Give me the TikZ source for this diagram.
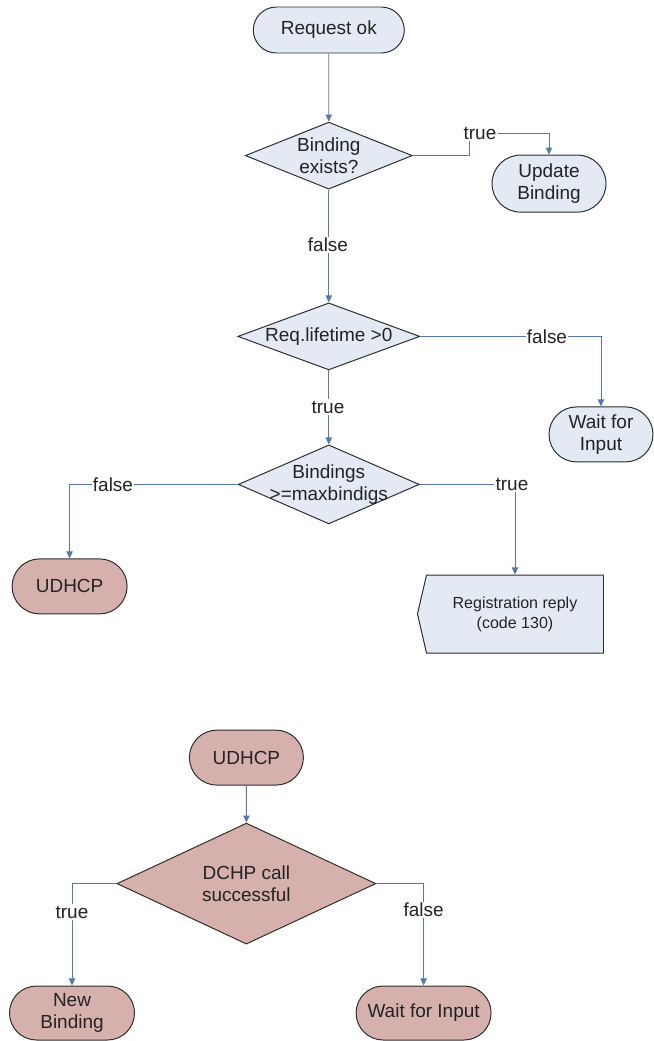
\documentclass[tikz,border=0pt]{standalone}
\usepackage{fontspec}
\setmainfont{Liberation Sans}
\usetikzlibrary{shapes.geometric,shapes.misc,shapes.symbols,arrows.meta}

\definecolor{bluefill}{RGB}{227,234,244}
\definecolor{pinkfill}{RGB}{214,176,172}
\definecolor{linkblue}{RGB}{84,120,178}
\definecolor{edgegray}{RGB}{45,45,45}
\definecolor{textgray}{RGB}{35,35,35}

\begin{document}
\begin{tikzpicture}[
  font=\fontsize{13.5}{15.5}\selectfont,
  term/.style={rounded rectangle, draw=edgegray, line width=0.7pt, text=textgray, align=center, inner sep=0pt},
  decision/.style={diamond, aspect=2.5, draw=edgegray, line width=0.7pt, text=textgray, align=center, inner sep=-6pt},
  reply/.style={signal, signal to=west, signal pointer angle=154, draw=edgegray, line width=0.7pt,
    fill=bluefill, text=textgray, align=center, font=\fontsize{11.4}{14.2}\selectfont},
  lbl/.style={fill=white, inner sep=1pt, text=textgray},
  arr/.style={draw=linkblue, line width=0.6pt, -{Triangle[length=5pt,width=4.5pt]}}
]
\useasboundingbox (0,0) rectangle (16.35,-26.025);

% registration request
\node[term, fill=bluefill, minimum width=3.775cm, minimum height=1.15cm] (req) at (8.22,-0.75) {Request ok};
\node[decision, fill=bluefill, minimum width=4.175cm, minimum height=1.675cm] (bind) at (8.22,-3.89) {Binding\\exists?};
\node[term, fill=bluefill, minimum width=2.85cm, minimum height=1.425cm] (upd) at (13.725,-4.59) {Update\\Binding};
\node[decision, fill=bluefill, minimum width=4.55cm, minimum height=1.675cm] (life) at (8.22,-8.41) {Req.lifetime >0};
\node[term, fill=bluefill, minimum width=2.6cm, minimum height=1.375cm] (wait1) at (15.025,-10.86) {Wait for\\Input};
\node[decision, fill=bluefill, minimum width=4.525cm, minimum height=1.975cm] (maxb) at (8.22,-12.11) {Bindings\\>=maxbindigs};
\node[term, fill=pinkfill, minimum width=2.875cm, minimum height=1.375cm] (udl) at (1.74,-14.66) {UDHCP};
\node[reply, minimum width=4.65cm, minimum height=1.95cm] (regrep) at (12.875,-15.35) {Registration reply\\(code 130)};

\coordinate (bendA) at (11.725,-3.325);
\draw[arr] (req) -- (bind);
\draw[arr] (bind.east) -| (bendA) -| (upd.north);
\node[lbl] (t1) at (12.0,-3.325) {true};
\draw[arr] (bind) -- (life);
\node[lbl] (f1) at (8.2,-6.125) {false};
\draw[arr] (life.east) -| (wait1.north);
\node[lbl] (f2) at (13.675,-8.41) {false};
\draw[arr] (life) -- (maxb);
\node[lbl] (t2) at (8.2,-10.175) {true};
\draw[arr] (maxb.west) -| (udl.north);
\node[lbl] (f3) at (2.825,-12.11) {false};
\draw[arr] (maxb.east) -| (regrep.north);
\node[lbl] (t3) at (12.8,-12.11) {true};

% UDHCP
\node[term, fill=pinkfill, minimum width=2.85cm, minimum height=1.375cm] (udb) at (6.16,-18.94) {UDHCP};
\node[decision, fill=pinkfill, minimum width=6.475cm, minimum height=3.025cm] (dchp) at (6.16,-22.09) {DCHP call\\successful};
\node[term, fill=pinkfill, minimum width=3.125cm, minimum height=1.35cm] (newb) at (1.8,-25.325) {New\\Binding};
\node[term, fill=pinkfill, minimum width=3.375cm, minimum height=1.35cm] (wait2) at (10.59,-25.325) {Wait for Input};

\draw[arr] (udb) -- (dchp);
\draw[arr] (dchp.west) -| (newb.north);
\node[lbl] (t4) at (1.8,-22.8) {true};
\draw[arr] (dchp.east) -| (wait2.north);
\node[lbl] (f4) at (10.59,-22.75) {false};

\end{tikzpicture}
\end{document}
